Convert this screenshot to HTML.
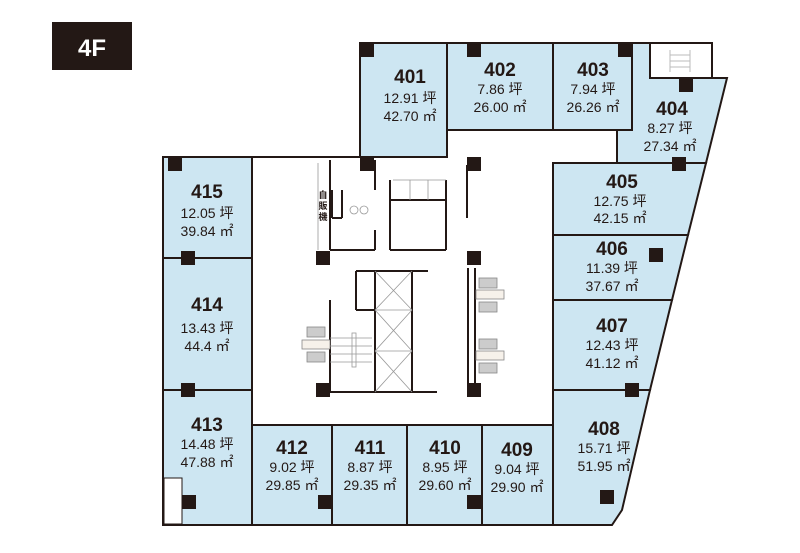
<!DOCTYPE html>
<html><head><meta charset="utf-8"><style>
html,body{margin:0;padding:0;background:#fff}
svg{display:block}
text{font-family:"Liberation Sans","Noto Sans CJK JP",sans-serif;fill:#231815;text-anchor:middle}
.n{font-size:19px;font-weight:bold}
.s{font-size:14px}
</style></head><body>
<svg width="800" height="553" viewBox="0 0 800 553">
<rect x="52" y="22" width="80" height="48" fill="#231815"/>
<text x="92" y="56" style="font-size:24px;font-weight:bold;fill:#fff">4F</text>
<g fill="#cde6f2" stroke="#231815" stroke-width="2">
<rect x="163" y="157" width="89" height="101"/>
<rect x="163" y="258" width="89" height="132"/>
<rect x="163" y="390" width="89" height="135"/>
<rect x="360" y="43" width="87" height="114"/>
<rect x="447" y="43" width="106" height="87"/>
<rect x="553" y="43" width="79" height="87"/>
<polygon points="632,43 650,43 650,78 727,78 706,163 617,163 617,130 632,130"/>
<polygon points="553,163 706,163 688,235 553,235"/>
<polygon points="553,235 688,235 672,300 553,300"/>
<polygon points="553,300 672,300 650,390 553,390"/>
<polygon points="553,390 650,390 622,510 612,525 553,525"/>
<rect x="252" y="425" width="80" height="100"/>
<rect x="332" y="425" width="75" height="100"/>
<rect x="407" y="425" width="75" height="100"/>
<rect x="482" y="425" width="71" height="100"/>
</g>
<rect x="164" y="478" width="18" height="46" fill="#fff" stroke="#231815" stroke-width="1"/>
<rect x="650" y="43" width="62" height="35" fill="#fff" stroke="#231815" stroke-width="2"/>
<g stroke="#bbb" stroke-width="1"><line x1="670" y1="50" x2="670" y2="72"/><line x1="690" y1="50" x2="690" y2="72"/><line x1="670" y1="55" x2="690" y2="55"/><line x1="670" y1="61" x2="690" y2="61"/><line x1="670" y1="67" x2="690" y2="67"/></g>
<g fill="none" stroke="#231815" stroke-width="2">
<line x1="252" y1="157" x2="252" y2="425"/>
<line x1="252" y1="157" x2="447" y2="157"/>
<line x1="447" y1="130" x2="447" y2="157"/>
<line x1="553" y1="163" x2="553" y2="425"/>
<line x1="252" y1="425" x2="553" y2="425"/>
<line x1="330" y1="160" x2="330" y2="250"/>
<line x1="330" y1="250" x2="375" y2="250"/>
<line x1="375" y1="230" x2="375" y2="250"/>
<line x1="375" y1="160" x2="375" y2="190"/>
<line x1="390" y1="200" x2="446" y2="200"/>
<line x1="390" y1="180" x2="390" y2="250"/>
<line x1="446" y1="180" x2="446" y2="250"/>
<line x1="390" y1="250" x2="446" y2="250"/>
<line x1="332" y1="190" x2="332" y2="218"/><line x1="332" y1="218" x2="342" y2="218"/><line x1="342" y1="190" x2="342" y2="218"/>
<line x1="356" y1="271" x2="428" y2="271"/>
<line x1="356" y1="271" x2="356" y2="310"/>
<line x1="356" y1="310" x2="375" y2="310"/>
<line x1="375" y1="271" x2="375" y2="392"/>
<line x1="412" y1="271" x2="412" y2="392"/>
<line x1="330" y1="300" x2="330" y2="392"/>
<line x1="330" y1="392" x2="437" y2="392"/>
<line x1="467" y1="165" x2="467" y2="218"/>
<line x1="468" y1="268" x2="468" y2="390"/>
<line x1="475" y1="268" x2="475" y2="390"/>
</g>
<g stroke="#999" stroke-width="0.8" fill="none">
<line x1="375" y1="271" x2="412" y2="310"/><line x1="412" y1="271" x2="375" y2="310"/>
<line x1="375" y1="310" x2="412" y2="351"/><line x1="412" y1="310" x2="375" y2="351"/>
<line x1="375" y1="351" x2="412" y2="392"/><line x1="412" y1="351" x2="375" y2="392"/>
<line x1="375" y1="310" x2="412" y2="310"/><line x1="375" y1="351" x2="412" y2="351"/>
<line x1="330" y1="338" x2="372" y2="338"/><line x1="330" y1="346" x2="372" y2="346"/><line x1="330" y1="354" x2="372" y2="354"/><line x1="330" y1="362" x2="372" y2="362"/>
<rect x="352" y="333" width="4" height="34"/>
<line x1="318" y1="163" x2="318" y2="250"/>
<line x1="393" y1="180" x2="446" y2="180"/><line x1="410" y1="180" x2="410" y2="200"/><line x1="428" y1="180" x2="428" y2="200"/>
<circle cx="354" cy="210" r="4"/><circle cx="364" cy="210" r="4"/>
</g>
<g fill="#ccc" stroke="#888" stroke-width="0.8">
<rect x="307" y="327" width="18" height="10"/><rect x="302" y="340" width="28" height="9" fill="#f6f1ea"/><rect x="307" y="352" width="18" height="10"/>
<rect x="479" y="278" width="18" height="10"/><rect x="476" y="290" width="28" height="9" fill="#f6f1ea"/><rect x="479" y="302" width="18" height="10"/>
<rect x="479" y="339" width="18" height="10"/><rect x="476" y="351" width="28" height="9" fill="#f6f1ea"/><rect x="479" y="363" width="18" height="10"/>
</g>
<text x="323" y="198" style="font-size:9px;font-weight:bold">自</text>
<text x="323" y="209" style="font-size:9px;font-weight:bold">販</text>
<text x="323" y="220" style="font-size:9px;font-weight:bold">機</text>
<g fill="#231815">
<rect x="360" y="43" width="14" height="14"/><rect x="467" y="43" width="14" height="14"/><rect x="618" y="43" width="14" height="14"/>
<rect x="679" y="78" width="14" height="14"/><rect x="360" y="157" width="14" height="14"/><rect x="467" y="157" width="14" height="14"/>
<rect x="672" y="157" width="14" height="14"/><rect x="649" y="248" width="14" height="14"/>
<rect x="168" y="157" width="14" height="14"/><rect x="181" y="251" width="14" height="14"/><rect x="181" y="383" width="14" height="14"/>
<rect x="316" y="251" width="14" height="14"/><rect x="467" y="251" width="14" height="14"/>
<rect x="316" y="383" width="14" height="14"/><rect x="467" y="383" width="14" height="14"/>
<rect x="625" y="383" width="14" height="14"/>
<rect x="182" y="495" width="14" height="14"/><rect x="318" y="495" width="14" height="14"/><rect x="467" y="495" width="14" height="14"/><rect x="600" y="490" width="14" height="14"/>
</g>
<g>
<text class="n" x="410" y="83">401</text><text class="s" x="410" y="103">12.91 坪</text><text class="s" x="410" y="121">42.70 ㎡</text>
<text class="n" x="500" y="76">402</text><text class="s" x="500" y="94">7.86 坪</text><text class="s" x="500" y="112">26.00 ㎡</text>
<text class="n" x="593" y="76">403</text><text class="s" x="593" y="94">7.94 坪</text><text class="s" x="593" y="112">26.26 ㎡</text>
<text class="n" x="672" y="115">404</text><text class="s" x="670" y="133">8.27 坪</text><text class="s" x="670" y="151">27.34 ㎡</text>
<text class="n" x="622" y="188">405</text><text class="s" x="620" y="206">12.75 坪</text><text class="s" x="620" y="223">42.15 ㎡</text>
<text class="n" x="612" y="255">406</text><text class="s" x="612" y="273">11.39 坪</text><text class="s" x="612" y="291">37.67 ㎡</text>
<text class="n" x="612" y="332">407</text><text class="s" x="612" y="350">12.43 坪</text><text class="s" x="612" y="368">41.12 ㎡</text>
<text class="n" x="604" y="435">408</text><text class="s" x="604" y="453">15.71 坪</text><text class="s" x="604" y="471">51.95 ㎡</text>
<text class="n" x="517" y="456">409</text><text class="s" x="517" y="474">9.04 坪</text><text class="s" x="517" y="492">29.90 ㎡</text>
<text class="n" x="445" y="454">410</text><text class="s" x="445" y="472">8.95 坪</text><text class="s" x="445" y="490">29.60 ㎡</text>
<text class="n" x="370" y="454">411</text><text class="s" x="370" y="472">8.87 坪</text><text class="s" x="370" y="490">29.35 ㎡</text>
<text class="n" x="292" y="454">412</text><text class="s" x="292" y="472">9.02 坪</text><text class="s" x="292" y="490">29.85 ㎡</text>
<text class="n" x="207" y="431">413</text><text class="s" x="207" y="449">14.48 坪</text><text class="s" x="207" y="467">47.88 ㎡</text>
<text class="n" x="207" y="311">414</text><text class="s" x="207" y="333">13.43 坪</text><text class="s" x="207" y="351">44.4 ㎡</text>
<text class="n" x="207" y="198">415</text><text class="s" x="207" y="218">12.05 坪</text><text class="s" x="207" y="236">39.84 ㎡</text>
</g>
</svg>
</body></html>
